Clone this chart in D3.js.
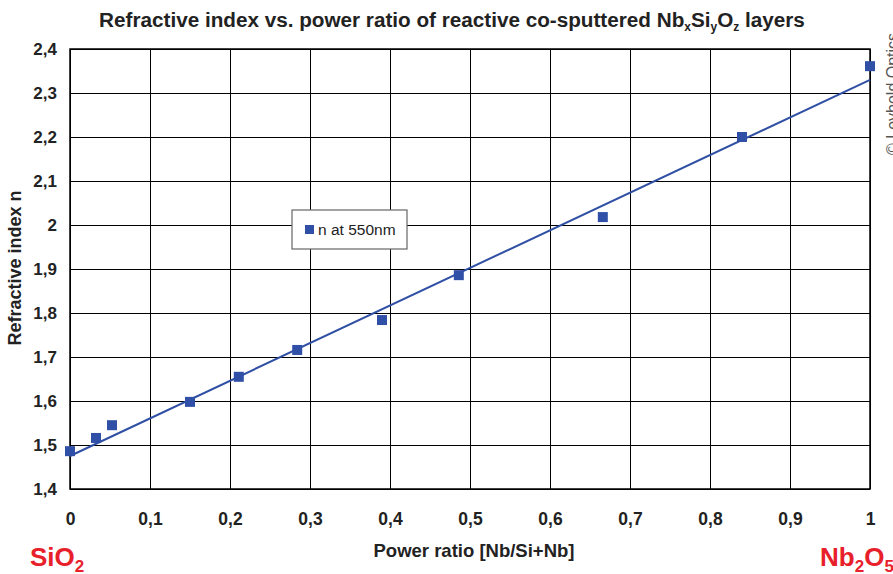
<!DOCTYPE html>
<html>
<head>
<meta charset="utf-8">
<script src="https://cdn.jsdelivr.net/npm/d3@7"></script>
<style>
  body { margin: 0; background: #fff; }
  text { font-family: "Liberation Sans", Arial, sans-serif; }
</style>
</head>
<body>
<div id="chart"></div>
<script>
// data
var powerRatio = [0, 0.0325, 0.0525, 0.15, 0.211, 0.284, 0.39, 0.486, 0.666, 0.84, 1.0];
var refIndex = [1.486, 1.516, 1.545, 1.598, 1.655, 1.716, 1.784, 1.886, 2.018, 2.200, 2.361];
var trendX = [0, 1];
var trendY = [1.475, 2.330];
var xTicks = [0, 0.1, 0.2, 0.3, 0.4, 0.5, 0.6, 0.7, 0.8, 0.9, 1];
var yTicks = [1.4, 1.5, 1.6, 1.7, 1.8, 1.9, 2.0, 2.1, 2.2, 2.3, 2.4];

var svgWidth = 893, svgHeight = 574;
var margin = { top: 49, right: 23, bottom: 85, left: 70 };
var chartWidth = svgWidth - margin.left - margin.right;
var chartHeight = svgHeight - margin.top - margin.bottom;

var svg = d3.select("#chart").append("svg")
    .attr("width", svgWidth)
    .attr("height", svgHeight);

var chartGroup = svg.append("g")
    .attr("transform", `translate(${margin.left}, ${margin.top})`);

var x = d3.scaleLinear().domain([0, 1]).range([0, chartWidth]);
var y = d3.scaleLinear().domain([1.4, 2.4]).range([chartHeight, 0]);

var fmt = function (d) { return d3.format("~g")(d).replace(".", ","); };

// grid lines
chartGroup.append("g")
    .attr("transform", `translate(0, ${chartHeight})`)
    .call(d3.axisBottom(x).tickValues(xTicks).tickSize(-chartHeight).tickFormat(""))
    .call(g => g.select(".domain").remove())
    .selectAll("line").attr("stroke", "#000").attr("stroke-width", 1);

chartGroup.append("g")
    .call(d3.axisLeft(y).tickValues(yTicks).tickSize(-chartWidth).tickFormat(""))
    .call(g => g.select(".domain").remove())
    .selectAll("line").attr("stroke", "#000").attr("stroke-width", 1);

// frame
chartGroup.append("rect")
    .attr("width", chartWidth).attr("height", chartHeight)
    .attr("fill", "none").attr("stroke", "#000").attr("stroke-width", 1.5);

// tick labels
var xAxis = chartGroup.append("g")
    .attr("transform", `translate(0, ${chartHeight})`)
    .call(d3.axisBottom(x).tickValues(xTicks).tickSize(0).tickPadding(24).tickFormat(fmt));
xAxis.select(".domain").remove();
xAxis.selectAll("text")
    .attr("font-size", 17.5).attr("font-weight", "bold").attr("fill", "#222")
    .style("font-family", "'Liberation Sans', Arial, sans-serif");

var yAxis = chartGroup.append("g")
    .call(d3.axisLeft(y).tickValues(yTicks).tickSize(0).tickPadding(13).tickFormat(fmt));
yAxis.select(".domain").remove();
yAxis.selectAll("text")
    .attr("font-size", 17).attr("font-weight", "bold").attr("fill", "#222")
    .style("font-family", "'Liberation Sans', Arial, sans-serif");

// trend line
var trend = trendX.map((d, i) => [d, trendY[i]]);
chartGroup.append("path")
    .datum(trend)
    .attr("d", d3.line().x(d => x(d[0])).y(d => y(d[1])))
    .attr("stroke", "#2f4fa5").attr("stroke-width", 2).attr("fill", "none");

// points
var pts = powerRatio.map((d, i) => ({ x: d, n: refIndex[i] }));
var sq = 10;
chartGroup.selectAll(".pt").data(pts).enter()
    .append("rect")
    .attr("class", "pt")
    .attr("x", d => x(d.x) - sq / 2)
    .attr("y", d => y(d.n) - sq / 2)
    .attr("width", sq).attr("height", sq)
    .attr("fill", "#3050a8");

// legend
var legend = svg.append("g").attr("transform", "translate(292, 210)");
legend.append("rect")
    .attr("width", 115).attr("height", 39)
    .attr("fill", "#fff").attr("stroke", "#666").attr("stroke-width", 1.2);
legend.append("rect")
    .attr("x", 13).attr("y", 15).attr("width", 9).attr("height", 9)
    .attr("fill", "#3050a8");
legend.append("text")
    .attr("x", 26).attr("y", 25)
    .attr("font-size", 15.5).attr("fill", "#222")
    .text("n at 550nm");

// title
var title = svg.append("text")
    .attr("x", 452).attr("y", 27)
    .attr("text-anchor", "middle")
    .attr("font-size", 20.7).attr("font-weight", "bold").attr("fill", "#222");
title.append("tspan").text("Refractive index vs. power ratio of reactive co-sputtered Nb");
title.append("tspan").attr("font-size", 12).attr("dy", 4).text("x");
title.append("tspan").attr("dy", -4).text("Si");
title.append("tspan").attr("font-size", 12).attr("dy", 4).text("y");
title.append("tspan").attr("dy", -4).text("O");
title.append("tspan").attr("font-size", 12).attr("dy", 4).text("z");
title.append("tspan").attr("dy", -4).text(" layers");

// axis titles
svg.append("text")
    .attr("x", 474).attr("y", 557)
    .attr("text-anchor", "middle")
    .attr("font-size", 18.5).attr("font-weight", "bold").attr("fill", "#222")
    .text("Power ratio [Nb/Si+Nb]");

svg.append("text")
    .attr("transform", "translate(21, 268) rotate(-90)")
    .attr("text-anchor", "middle")
    .attr("font-size", 18).attr("font-weight", "bold").attr("fill", "#222")
    .text("Refractive index n");

// material labels
var sio2 = svg.append("text")
    .attr("x", 30).attr("y", 566)
    .attr("font-size", 26).attr("font-weight", "bold").attr("fill", "#e8202a");
sio2.append("tspan").text("SiO");
sio2.append("tspan").attr("font-size", 17).attr("dy", 6).text("2");

var nb = svg.append("text")
    .attr("x", 820).attr("y", 566)
    .attr("font-size", 26).attr("font-weight", "bold").attr("fill", "#e8202a");
nb.append("tspan").text("Nb");
nb.append("tspan").attr("font-size", 17).attr("dy", 6).text("2");
nb.append("tspan").attr("dy", -6).text("O");
nb.append("tspan").attr("font-size", 17).attr("dy", 6).text("5");

// copyright
svg.append("text")
    .attr("transform", "translate(898, 155) rotate(-90)")
    .attr("font-size", 16).attr("fill", "#555")
    .text("© Leybold Optics");
</script>
</body>
</html>
